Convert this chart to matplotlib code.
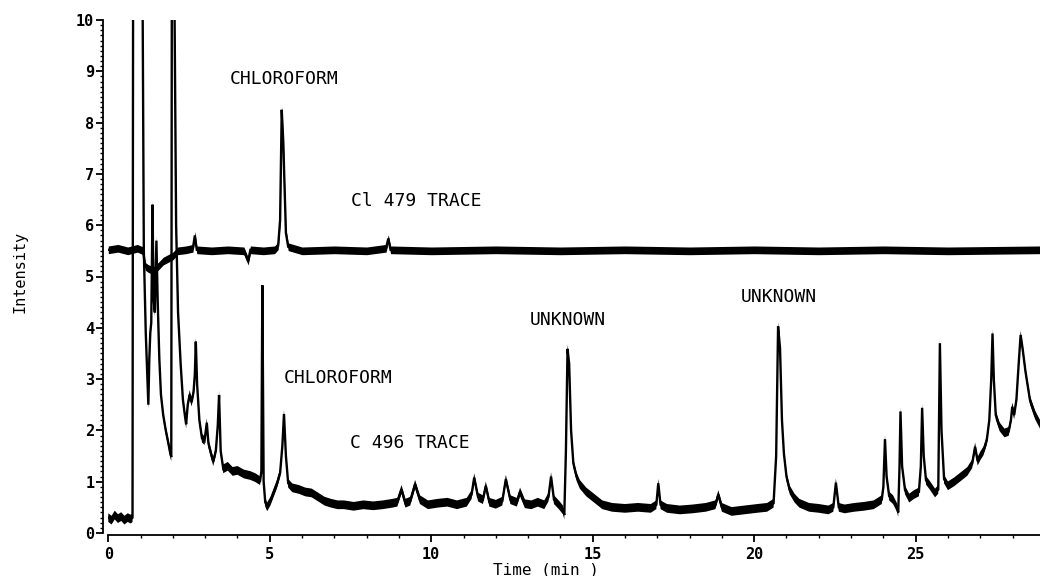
import matplotlib
matplotlib.use("Agg")
import matplotlib.pyplot as plt
from matplotlib.ticker import MultipleLocator
import numpy as np

# ---- data (time in min, intensity) ----
cl479_time = [0.00, 0.30, 0.60, 0.90, 1.08, 1.14, 1.25, 1.40, 1.55, 1.70, 1.85, 2.00,
              2.15, 2.40, 2.62, 2.68, 2.74, 3.20, 3.70, 4.20, 4.33, 4.40, 4.80, 5.15,
              5.26, 5.32, 5.37, 5.42, 5.44, 5.50, 5.57, 6.00, 7.00, 8.00, 8.60, 8.67,
              8.74, 10.0, 12.0, 14.0, 16.0, 18.0, 20.0, 22.0, 24.0, 26.0, 28.85]
cl479_int = [5.52, 5.55, 5.50, 5.55, 5.50, 5.20, 5.15, 5.12, 5.20, 5.30, 5.35, 5.40,
             5.50, 5.52, 5.55, 5.80, 5.52, 5.50, 5.52, 5.50, 5.30, 5.52, 5.50, 5.52,
             5.60, 6.10, 8.25, 7.60, 7.14, 5.85, 5.58, 5.50, 5.52, 5.50, 5.55, 5.74,
             5.52, 5.50, 5.52, 5.50, 5.52, 5.50, 5.52, 5.50, 5.52, 5.50, 5.52]

c496_time = [0.00, 0.10, 0.20, 0.30, 0.40, 0.50, 0.60, 0.70, 0.75, 0.77, 1.05,
             1.10, 1.16, 1.21, 1.24, 1.27, 1.30, 1.33, 1.37, 1.40, 1.44, 1.49, 1.53,
             1.58, 1.63, 1.70, 1.78, 1.86, 1.92, 1.95, 1.97, 2.03,
             2.10, 2.16, 2.24, 2.31, 2.37, 2.41, 2.46, 2.52, 2.58, 2.64, 2.68, 2.71,
             2.75, 2.82, 2.90, 2.98, 3.05, 3.10, 3.18, 3.25, 3.33, 3.39, 3.43, 3.48,
             3.56, 3.70, 3.85, 4.00, 4.20, 4.40, 4.55, 4.70, 4.74, 4.77, 4.81, 4.86,
             4.92, 5.02, 5.11, 5.22, 5.32, 5.39, 5.44, 5.50, 5.57, 5.70, 5.90, 6.10,
             6.30, 6.50, 6.70, 6.90, 7.10, 7.30, 7.60, 7.90, 8.20, 8.50, 8.80, 8.95,
             9.08, 9.20, 9.35, 9.50, 9.65, 9.90, 10.20, 10.50, 10.80, 11.10, 11.25,
             11.33, 11.45, 11.60, 11.69, 11.80, 12.00, 12.20, 12.31, 12.45, 12.65,
             12.75, 12.90, 13.10, 13.30, 13.50, 13.63, 13.71, 13.80, 13.95, 14.08,
             14.12, 14.17, 14.22, 14.27, 14.33, 14.40, 14.50, 14.60, 14.80, 15.00,
             15.30, 15.60, 16.00, 16.40, 16.80, 16.97, 17.03, 17.10, 17.30, 17.70,
             18.10, 18.50, 18.80, 18.89, 19.00, 19.30, 19.70, 20.10, 20.40, 20.60,
             20.68, 20.74, 20.80, 20.86, 20.92, 21.00, 21.10, 21.25, 21.40, 21.70,
             22.00, 22.30, 22.45, 22.53, 22.62, 22.80, 23.10, 23.40, 23.70, 23.95,
             24.00, 24.05, 24.10, 24.18, 24.30, 24.42, 24.46, 24.50, 24.53, 24.58,
             24.67, 24.80, 24.95, 25.10, 25.16, 25.20, 25.25, 25.32, 25.45, 25.60,
             25.70, 25.75, 25.80, 25.88, 26.00, 26.20, 26.40, 26.60, 26.75, 26.84,
             26.92, 27.00, 27.10, 27.20, 27.28, 27.34, 27.38, 27.42, 27.48, 27.60,
             27.75, 27.88, 27.95, 27.99, 28.05, 28.12, 28.19, 28.25, 28.31, 28.40,
             28.54, 28.70, 28.85]
c496_int = [0.30, 0.25, 0.35, 0.28, 0.32, 0.25, 0.30, 0.27, 0.30, 12.0, 12.0,
            5.50, 3.90, 3.00, 2.50, 3.40, 3.90, 4.10, 6.40, 4.60, 4.30, 5.70, 4.50,
            3.40, 2.70, 2.30, 2.00, 1.75, 1.55, 1.48, 12.0, 12.0,
            6.00, 4.30, 3.30, 2.60, 2.30, 2.12, 2.50, 2.70, 2.55, 2.75, 3.10, 3.73,
            2.90, 2.20, 1.85, 1.80, 2.15, 1.75, 1.55, 1.39, 1.60, 2.10, 2.69, 1.60,
            1.25, 1.30, 1.20, 1.22, 1.15, 1.12, 1.08, 1.02, 1.20, 4.83, 1.00, 0.60,
            0.51, 0.62, 0.77, 0.95, 1.17, 1.70, 2.32, 1.50, 0.97, 0.88, 0.85, 0.80,
            0.78, 0.70, 0.62, 0.58, 0.55, 0.55, 0.52, 0.55, 0.53, 0.55, 0.58, 0.60,
            0.85, 0.58, 0.62, 0.95, 0.65, 0.55, 0.58, 0.60, 0.55, 0.60, 0.75,
            1.08, 0.70, 0.65, 0.92, 0.60, 0.56, 0.62, 1.05, 0.65, 0.60,
            0.80, 0.57, 0.55, 0.60, 0.55, 0.70, 1.10, 0.65, 0.55, 0.45,
            0.35, 1.60, 3.59, 3.30, 2.00, 1.36, 1.10, 0.95, 0.80, 0.70,
            0.55, 0.50, 0.48, 0.50, 0.48, 0.55, 0.97, 0.55, 0.48, 0.45,
            0.47, 0.50, 0.55, 0.75, 0.50, 0.42, 0.45, 0.48, 0.50, 0.58,
            1.50, 4.03, 3.60, 2.20, 1.55, 1.10, 0.84, 0.68, 0.58, 0.50,
            0.48, 0.45, 0.50, 0.98, 0.50, 0.47, 0.50, 0.52, 0.55, 0.65,
            0.90, 1.83, 1.10, 0.72, 0.65, 0.50, 0.40, 1.30, 2.37, 1.30,
            0.84, 0.68, 0.75, 0.80, 1.30, 2.44, 1.50, 1.03, 0.92, 0.78,
            0.85, 3.70, 2.00, 1.05, 0.92, 1.00, 1.10, 1.20, 1.35, 1.68,
            1.40, 1.50, 1.60, 1.80, 2.20, 3.00, 3.89, 3.00, 2.30, 2.07,
            1.95, 1.98, 2.20, 2.46, 2.30, 2.60, 3.30, 3.86, 3.60, 3.15,
            2.59, 2.30, 2.12]

x_ticks = [0, 5, 10, 15, 20, 25]
y_ticks = [0, 1, 2, 3, 4, 5, 6, 7, 8, 9, 10]

labels = ["CHLOROFORM", "Cl 479 TRACE", "UNKNOWN", "UNKNOWN", "CHLOROFORM", "C 496 TRACE"]
label_pos = [(5.44, 8.85), (9.55, 6.47), (14.23, 4.15), (20.76, 4.61), (7.13, 3.02), (9.34, 1.76)]

# ---- figure ----
W, H = 1040, 576
fig = plt.figure(figsize=(W / 100, H / 100), dpi=100)
x0, x1, ytop, ybot = 108.3, 1040, 20, 533
ax = fig.add_axes([x0 / W, 1 - ybot / H, (x1 - x0) / W, (ybot - ytop) / H])

mono = "DejaVu Sans Mono"

for t, v, band in [(cl479_time, cl479_int, 0.075), (c496_time, c496_int, 0.085)]:
    t = np.asarray(t)
    v = np.asarray(v)
    ax.fill_between(t, v - band, v + band, color="black", lw=0)
    ax.plot(t, v, color="black", lw=1.7, solid_joinstyle="miter")

ax.set_xlim(0, 28.85)
ax.set_ylim(0, 10)

for s in ["top", "right"]:
    ax.spines[s].set_visible(False)
ax.spines["left"].set_position(("outward", 3.6))
ax.spines["bottom"].set_position(("outward", 1.4))
for s in ["left", "bottom"]:
    ax.spines[s].set_linewidth(1.3)

ax.set_xticks(x_ticks)
ax.set_yticks(y_ticks)
ax.xaxis.set_minor_locator(MultipleLocator(1))
ax.yaxis.set_minor_locator(MultipleLocator(0.1))
ax.tick_params(which="major", direction="out", length=5, width=1.3, labelsize=11, pad=1.5)
ax.tick_params(axis="x", which="major", pad=3.5)
ax.tick_params(which="minor", direction="out", length=2.5, width=1.0)
for lab in ax.get_xticklabels() + ax.get_yticklabels():
    lab.set_family(mono)
    lab.set_weight("bold")

ax.set_xlabel("Time (min )", family=mono, fontsize=11.5)
ax.xaxis.label.set_va("center")
ax.xaxis.set_label_coords(0.47, -0.0715)
ax.set_ylabel("Intensity", family=mono, fontsize=11)
ax.yaxis.label.set_va("center")
ax.yaxis.set_label_coords(-0.0948, 0.509)

for txt, (tx, ty) in zip(labels, label_pos):
    ax.text(tx, ty, txt, family=mono, fontsize=13, ha="center", va="center")

fig.savefig("out.png", dpi=100)
